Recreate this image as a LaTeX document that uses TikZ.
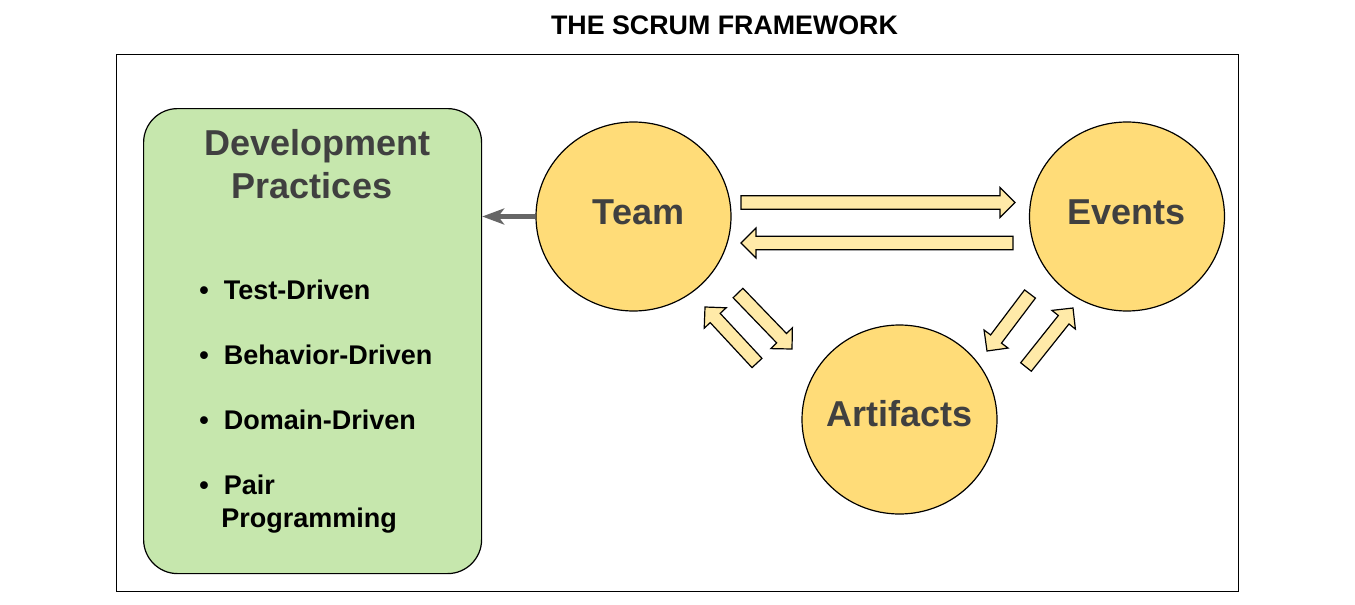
\documentclass[tikz,border=0pt]{standalone}
\usepackage{fontspec}
\setmainfont{Liberation Sans}
\usetikzlibrary{shapes.geometric,calc,arrows.meta}
\definecolor{circfill}{HTML}{FFDC78}
\definecolor{arrfill}{HTML}{FFEAA8}
\definecolor{greenfill}{HTML}{C6E7AD}
\definecolor{darktext}{HTML}{404040}
\definecolor{greyarrow}{HTML}{666666}
\newcommand{\blockarr}[2]{%
  \coordinate (h) at ($(#2)!7.5pt!(#1)$);
  \draw[blockarrow] ($(#1)!3.4pt!90:(#2)$) -- ($(h)!3.4pt!90:(#2)$) --
    ($(h)!7.5pt!90:(#2)$) -- (#2) -- ($(h)!7.5pt!-90:(#2)$) --
    ($(h)!3.4pt!-90:(#2)$) -- ($(#1)!3.4pt!-90:(#2)$) -- cycle;}
\begin{document}
\begin{tikzpicture}[x=0.5pt,y=-0.5pt,
  circ/.style={ellipse, draw=black, line width=0.6pt, fill=circfill,
    minimum width=97.5pt, minimum height=94.5pt, inner sep=0pt},
  circtext/.style={font=\fontsize{18}{21.5}\selectfont\bfseries, text=darktext, inner sep=0pt},
  headtext/.style={font=\fontsize{18}{21.5}\selectfont\bfseries, text=darktext, inner sep=0pt, anchor=base},
  item/.style={font=\fontsize{13.5}{16}\selectfont\bfseries, text=black, inner sep=0pt, anchor=base west},
  blockarrow/.style={fill=arrfill, draw=black, line width=0.6pt, line join=miter},
  greyarr/.style={draw=greyarrow, line width=2.2pt, -{Stealth[length=11pt,width=8pt,inset=3pt]}}]
\useasboundingbox (0,0) rectangle (1355,605);
\node[font=\fontsize{13.4}{16}\selectfont\bfseries, anchor=base, inner sep=0pt] (title) at (724.5,34.6) {THE SCRUM FRAMEWORK};
\node[draw=black, line width=0.6pt, minimum width=561pt, minimum height=268.5pt, inner sep=0pt, anchor=north west] (frame) at (116,54) {};
\node[draw=black, line width=0.6pt, fill=greenfill, rounded corners=17pt, minimum width=169pt, minimum height=232.5pt, inner sep=0pt, anchor=north west] (dev) at (143,108) {};
\node[headtext] (devA) at (317.5,155) {Development};
\node[headtext] (devB) at (312,198) {Practices};
\node[item] (i1) at (199,299) {\makebox[12.2pt][l]{•}Test-Driven};
\node[item] (i2) at (199,364) {\makebox[12.2pt][l]{•}Behavior-Driven};
\node[item] (i3) at (199,429) {\makebox[12.2pt][l]{•}Domain-Driven};
\node[item] (i4) at (199,494) {\makebox[12.2pt][l]{•}Pair};
\node[item] (i5) at (221,527) {Programming};
\node[circ] (team) at (633.5,216.5) {};
\node[circ] (events) at (1127,216.5) {};
\node[circ] (artifacts) at (899.5,419.5) {};
\node[circtext] (teamT) at (638.5,212) {Team};
\node[circtext] (eventsT) at (1126.5,212) {Events};
\node[circtext] (artifactsT) at (899.5,414) {Artifacts};
\draw[greyarr] (team.west) -- (dev.east |- team.west);
\coordinate (a1s) at (741,202.5);
\coordinate (a1e) at (1015,202.5);
\coordinate (a2s) at (1013,243);
\coordinate (a2e) at (741,243);
\coordinate (a3s) at (738,293);
\coordinate (a3e) at (792,349);
\coordinate (a4s) at (757,363);
\coordinate (a4e) at (705,307);
\coordinate (a5s) at (1030,294);
\coordinate (a5e) at (987,351);
\coordinate (a6s) at (1026,367);
\coordinate (a6e) at (1073,308);
\blockarr{a1s}{a1e}
\blockarr{a2s}{a2e}
\blockarr{a3s}{a3e}
\blockarr{a4s}{a4e}
\blockarr{a5s}{a5e}
\blockarr{a6s}{a6e}
\end{tikzpicture}
\end{document}
